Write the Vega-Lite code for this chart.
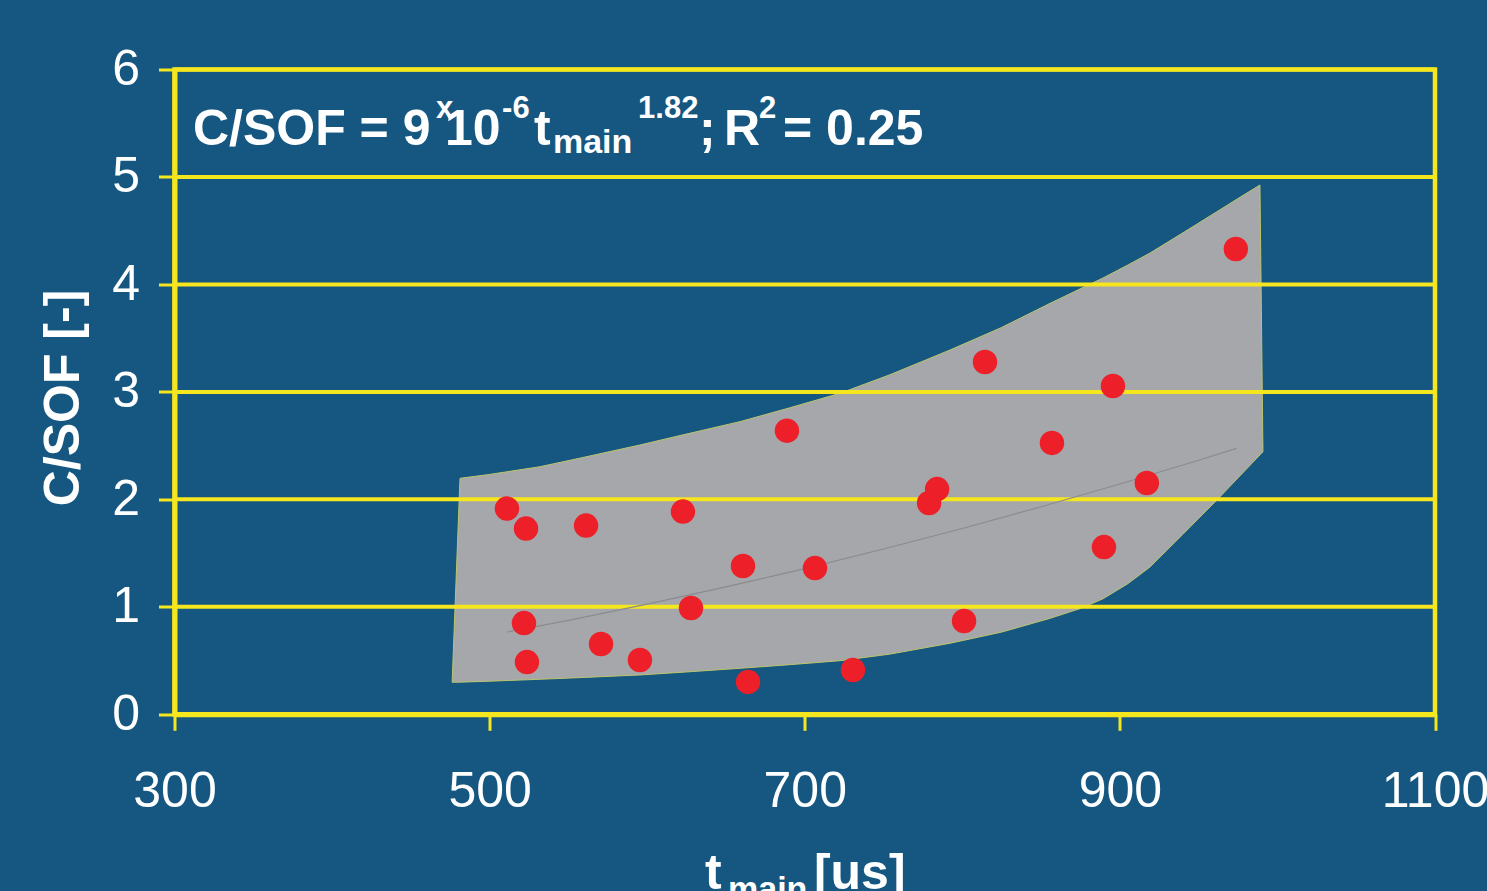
{
  "$schema": "https://vega.github.io/schema/vega-lite/v6.json",
  "width": 1260.5,
  "height": 644.8,
  "autosize": "none",
  "padding": {"left": 174.5, "top": 69.5, "right": 52, "bottom": 176.7},
  "background": "#155780",
  "config": {
    "view": {"stroke": "#f5e61e", "strokeWidth": 4.5},
    "font": "Liberation Sans"
  },
  "datasets": {
    "points": [
      {"t": 511.0, "c": 1.914}, {"t": 523.1, "c": 1.728}, {"t": 561.2, "c": 1.756},
      {"t": 622.7, "c": 1.886}, {"t": 521.8, "c": 0.849}, {"t": 523.7, "c": 0.486},
      {"t": 570.7, "c": 0.654}, {"t": 595.4, "c": 0.505}, {"t": 627.8, "c": 0.989},
      {"t": 660.8, "c": 1.380}, {"t": 664.0, "c": 0.301}, {"t": 688.7, "c": 2.639},
      {"t": 706.5, "c": 1.361}, {"t": 730.6, "c": 0.412}, {"t": 778.9, "c": 1.966},
      {"t": 784.0, "c": 2.096}, {"t": 801.1, "c": 0.868}, {"t": 814.4, "c": 3.278},
      {"t": 856.9, "c": 2.525}, {"t": 895.6, "c": 3.055}, {"t": 889.9, "c": 1.556},
      {"t": 917.1, "c": 2.152}, {"t": 973.6, "c": 4.330}
    ],
    "band": [
      {"t": 476.2, "lo": 0.298, "hi": 0.298},
      {"t": 481.2, "lo": 0.299, "hi": 2.196},
      {"t": 500.0, "lo": 0.308, "hi": 2.232},
      {"t": 532.0, "lo": 0.326, "hi": 2.304},
      {"t": 560.0, "lo": 0.343, "hi": 2.392},
      {"t": 595.4, "lo": 0.366, "hi": 2.506},
      {"t": 625.0, "lo": 0.394, "hi": 2.608},
      {"t": 658.9, "lo": 0.428, "hi": 2.723},
      {"t": 690.0, "lo": 0.461, "hi": 2.850},
      {"t": 722.4, "lo": 0.499, "hi": 2.987},
      {"t": 754.1, "lo": 0.560, "hi": 3.160},
      {"t": 792.2, "lo": 0.661, "hi": 3.390},
      {"t": 825.0, "lo": 0.765, "hi": 3.600},
      {"t": 855.7, "lo": 0.893, "hi": 3.824},
      {"t": 875.0, "lo": 0.985, "hi": 3.960},
      {"t": 889.3, "lo": 1.075, "hi": 4.060},
      {"t": 905.0, "lo": 1.215, "hi": 4.180},
      {"t": 919.1, "lo": 1.370, "hi": 4.292},
      {"t": 940.0, "lo": 1.675, "hi": 4.480},
      {"t": 961.6, "lo": 1.994, "hi": 4.677},
      {"t": 975.0, "lo": 2.200, "hi": 4.800},
      {"t": 988.9, "lo": 2.414, "hi": 4.925},
      {"t": 990.8, "lo": 2.443, "hi": 2.443}
    ],
    "trend": [
      {"t": 511, "c": 0.765}, {"t": 550, "c": 0.874}, {"t": 600, "c": 1.025},
      {"t": 650, "c": 1.185}, {"t": 700, "c": 1.356}, {"t": 750, "c": 1.538},
      {"t": 800, "c": 1.729}, {"t": 850, "c": 1.931}, {"t": 900, "c": 2.143},
      {"t": 950, "c": 2.364}, {"t": 974, "c": 2.474}
    ],
    "grid": [{"g": 1}, {"g": 2}, {"g": 3}, {"g": 4}, {"g": 5}, {"g": 6}]
  },
  "encoding": {
    "x": {
      "type": "quantitative",
      "scale": {"domain": [300, 1100], "nice": false, "zero": false},
      "axis": {
        "values": [300, 500, 700, 900, 1100],
        "format": "d",
        "grid": false,
        "title": null,
        "domainColor": "#f5e61e", "domainWidth": 5,
        "tickColor": "#f5e61e", "tickWidth": 3, "tickSize": 16,
        "labelColor": "white", "labelFont": "Liberation Sans", "labelFontSize": 50,
        "labelPadding": 36, "labelFlush": false, "labelOverlap": false
      }
    },
    "y": {
      "type": "quantitative",
      "scale": {"domain": [0, 6], "nice": false, "zero": false},
      "axis": {
        "values": [0, 1, 2, 3, 4, 5, 6],
        "format": "d",
        "grid": false,
        "title": "C/SOF [-]",
        "titleFont": "Liberation Sans", "titleFontSize": 50, "titleFontWeight": "bold",
        "titleColor": "white", "titleX": -86, "titleY": 328,
        "domainColor": "#f5e61e", "domainWidth": 5,
        "tickColor": "#f5e61e", "tickWidth": 3, "tickSize": 16,
        "labelColor": "white", "labelFont": "Liberation Sans", "labelFontSize": 50,
        "labelPadding": 19, "labelFlush": false, "labelOverlap": false
      }
    }
  },
  "layer": [
    {
      "data": {"name": "band"},
      "mark": {"type": "area", "color": "#a6a7aa", "stroke": "#bcc46c", "strokeWidth": 1, "opacity": 1},
      "encoding": {
        "x": {"field": "t", "type": "quantitative"},
        "y": {"field": "lo", "type": "quantitative"},
        "y2": {"field": "hi"}
      }
    },
    {
      "data": {"name": "grid"},
      "mark": {"type": "rule", "color": "#f5e61e", "strokeWidth": 4},
      "encoding": {
        "y": {"field": "g", "type": "quantitative"}
      }
    },
    {
      "data": {"name": "trend"},
      "mark": {"type": "line", "color": "#8a8b8f", "strokeWidth": 1.2, "interpolate": "monotone"},
      "encoding": {
        "x": {"field": "t", "type": "quantitative"},
        "y": {"field": "c", "type": "quantitative"}
      }
    },
    {
      "data": {"name": "points"},
      "mark": {"type": "circle", "color": "#ed2029", "size": 600, "opacity": 1},
      "encoding": {
        "x": {"field": "t", "type": "quantitative"},
        "y": {"field": "c", "type": "quantitative"}
      }
    },
    {
      "data": {"values": [
        {"lab": "C/SOF = 9", "tx": 311.7, "ty": 5.297},
        {"lab": "10", "tx": 471.7, "ty": 5.297},
        {"lab": "t", "tx": 528.2, "ty": 5.297},
        {"lab": ";", "tx": 632.9, "ty": 5.297},
        {"lab": "R", "tx": 648.8, "ty": 5.297},
        {"lab": "= 0.25", "tx": 686.2, "ty": 5.297},
        {"lab": "t", "tx": 636.7, "ty": -1.626},
        {"lab": "[us]", "tx": 705.8, "ty": -1.626}
      ]},
      "mark": {"type": "text", "align": "left", "baseline": "alphabetic", "font": "Liberation Sans", "fontWeight": "bold", "fontSize": 50, "color": "white"},
      "encoding": {
        "x": {"field": "tx", "type": "quantitative"},
        "y": {"field": "ty", "type": "quantitative"},
        "text": {"field": "lab"}
      }
    },
    {
      "data": {"values": [
        {"lab": "x", "tx": 466.0, "ty": 5.553},
        {"lab": "-6", "tx": 507.9, "ty": 5.553},
        {"lab": "1.82", "tx": 594.2, "ty": 5.553},
        {"lab": "2", "tx": 671.0, "ty": 5.553}
      ]},
      "mark": {"type": "text", "align": "left", "baseline": "alphabetic", "font": "Liberation Sans", "fontWeight": "bold", "fontSize": 31, "color": "white"},
      "encoding": {
        "x": {"field": "tx", "type": "quantitative"},
        "y": {"field": "ty", "type": "quantitative"},
        "text": {"field": "lab"}
      }
    },
    {
      "data": {"values": [
        {"lab": "main", "tx": 540.2, "ty": 5.220},
        {"lab": "main", "tx": 651.3, "ty": -1.728}
      ]},
      "mark": {"type": "text", "align": "left", "baseline": "alphabetic", "font": "Liberation Sans", "fontWeight": "bold", "fontSize": 34, "color": "white"},
      "encoding": {
        "x": {"field": "tx", "type": "quantitative"},
        "y": {"field": "ty", "type": "quantitative"},
        "text": {"field": "lab"}
      }
    }
  ]
}
